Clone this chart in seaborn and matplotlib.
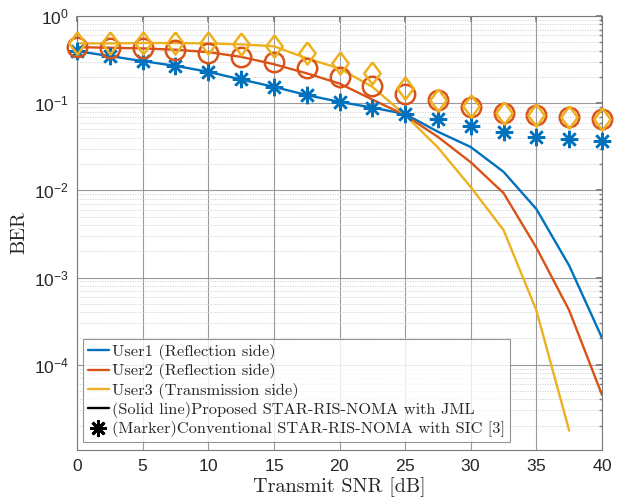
import numpy as np
import pandas as pd
import matplotlib
matplotlib.use("Agg")
import matplotlib.pyplot as plt
import seaborn as sns
from matplotlib.lines import Line2D
from matplotlib.ticker import LogLocator, LogFormatterSciNotation, NullFormatter

# ---------------- data ----------------
snr = [0, 2.5, 5, 7.5, 10, 12.5, 15, 17.5, 20, 22.5, 25, 27.5, 30, 32.5, 35, 37.5, 40]

# Proposed STAR-RIS-NOMA with JML (solid lines)
jml_user1 = [0.396, 0.347, 0.304, 0.268, 0.229, 0.187, 0.154, 0.124, 0.1035, 0.089, 0.075,
             0.047, 0.0314, 0.0163, 0.0061, 0.00137, 0.000203]
jml_user2 = [0.44, 0.432, 0.425, 0.41, 0.385, 0.34, 0.28, 0.22, 0.168, 0.11, 0.073,
             0.041, 0.021, 0.0093, 0.0022, 0.00042, 0.000045]
jml_user3 = [0.485, 0.485, 0.49, 0.49, 0.485, 0.472, 0.45, 0.327, 0.25, 0.154, 0.073,
             0.031, 0.0109, 0.0035, 0.00042, 0.0000175, np.nan]

# Conventional STAR-RIS-NOMA with SIC (markers)
sic_user1 = [0.396, 0.347, 0.304, 0.268, 0.229, 0.187, 0.154, 0.124, 0.1035, 0.089, 0.076,
             0.065, 0.055, 0.047, 0.041, 0.0386, 0.0369]
sic_user2 = [0.44, 0.432, 0.425, 0.407, 0.379, 0.341, 0.294, 0.25, 0.2, 0.158, 0.129,
             0.108, 0.0907, 0.078, 0.0728, 0.0685, 0.0655]
sic_user3 = [0.485, 0.485, 0.49, 0.49, 0.485, 0.472, 0.452, 0.38, 0.291, 0.219, 0.151,
             0.110, 0.092, 0.078, 0.073, 0.0685, 0.065]

legend_labels = ["User1 (Reflection side)", "User2 (Reflection side)",
                 "User3 (Transmission side)",
                 "(Solid line)Proposed STAR-RIS-NOMA with JML",
                 "(Marker)Conventional STAR-RIS-NOMA with SIC [3]"]

# ---------------- style ----------------
sns.set_theme(style="white")
plt.rcParams["font.family"] = ["Liberation Sans", "DejaVu Sans"]
plt.rcParams["axes.formatter.use_mathtext"] = True

c1, c2, c3 = "#0072BD", "#D95319", "#EDB120"
serif = ["cmr10", "DejaVu Serif"]

fig = plt.figure(figsize=(6.17, 4.99), dpi=100)
ax = fig.add_axes([77 / 617, 49 / 499, 525 / 617, 434 / 499])

asterisk = (8, 2, 0)
diamond = [(0, 1), (0.74, 0), (0, -1), (-0.74, 0), (0, 1)]
lw = 1.7

for y, col in [(jml_user1, c1), (jml_user2, c2), (jml_user3, c3)]:
    df = pd.DataFrame({"snr": snr, "ber": y}).dropna()
    sns.lineplot(data=df, x="snr", y="ber", ax=ax, color=col, linewidth=lw,
                 legend=False, zorder=3)

marker_specs = [(sic_user1, c1, asterisk, 12.5), (sic_user2, c2, "o", 14), (sic_user3, c3, diamond, 16)]
for y, col, mk, ms in marker_specs:
    df = pd.DataFrame({"snr": snr, "ber": y})
    sns.lineplot(data=df, x="snr", y="ber", ax=ax, color=col, linestyle="",
                 marker=mk, markersize=ms, markerfacecolor="none",
                 markeredgecolor=col, markeredgewidth=1.8, legend=False, zorder=4,
                 clip_on=False)

ax.set_yscale("log")
ax.set_xlim(0, 40)
ax.set_ylim(1.05e-5, 1)
ax.set_xticks(range(0, 41, 5))
ax.yaxis.set_major_locator(LogLocator(base=10, numticks=10))
ax.yaxis.set_minor_locator(LogLocator(base=10, subs=np.arange(2, 10), numticks=20))
ax.yaxis.set_major_formatter(LogFormatterSciNotation())
ax.yaxis.set_minor_formatter(NullFormatter())

ax.grid(True, which="major", axis="both", color="#9a9a9a", linewidth=0.8, linestyle="-")
ax.grid(True, which="minor", axis="y", color="#d0d0d0", linewidth=0.6, linestyle=(0, (1.5, 1.5)))
ax.set_axisbelow(True)

for s in ax.spines.values():
    s.set_color("#7a7a7a")
    s.set_linewidth(0.8)
ax.tick_params(axis="both", which="both", direction="in", top=True, right=True,
               colors="#262626", labelsize=12.5, pad=6)
ax.tick_params(which="major", length=4, color="#7a7a7a")
ax.tick_params(which="minor", length=2, color="#7a7a7a")

ax.set_xlabel("Transmit SNR [dB]", fontsize=14.5, family=serif, color="#262626", labelpad=2)
ax.set_ylabel("BER", fontsize=14.5, family=serif, color="#262626", labelpad=4)

handles = [Line2D([], [], color=c1, lw=lw),
           Line2D([], [], color=c2, lw=lw),
           Line2D([], [], color=c3, lw=lw),
           Line2D([], [], color="black", lw=lw),
           Line2D([], [], color="black", lw=0, marker=asterisk, markersize=12,
                  markeredgewidth=2)]
leg = ax.legend(handles, legend_labels, loc="lower left",
                bbox_to_anchor=(0.011, 0.018), borderaxespad=0,
                prop={"family": serif, "size": 11.8}, frameon=True, fancybox=False,
                edgecolor="#7a7a7a", handlelength=1.3, handletextpad=0.2,
                labelspacing=0.2, borderpad=0.3)
leg.get_frame().set_linewidth(0.8)
leg.set_zorder(10)

fig.savefig("out.png", dpi=100)
